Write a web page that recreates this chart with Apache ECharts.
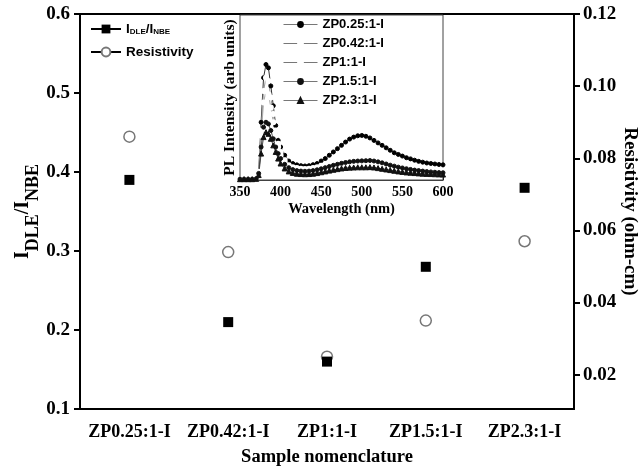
<!DOCTYPE html>
<html><head><meta charset="utf-8">
<script src="https://cdn.jsdelivr.net/npm/echarts@6/dist/echarts.min.js"></script>
<style>html,body{margin:0;padding:0;background:#fff}#c{width:639px;height:470px}</style>
</head><body><div id="c"></div>
<script>
// main chart data
const samples = ['ZP0.25:1-I','ZP0.42:1-I','ZP1:1-I','ZP1.5:1-I','ZP2.3:1-I'];
const ratioDLE = [0.39, 0.21, 0.16, 0.28, 0.38];
const resistivity = [0.086, 0.054, 0.025, 0.035, 0.057];
const leftTicks = [0.1, 0.2, 0.3, 0.4, 0.5, 0.6];
const rightTicks = [0.02, 0.04, 0.06, 0.08, 0.10, 0.12];

// inset PL spectra
const wavelengths = [350,355,360,365,370,373,376,379,382,385,388,391,394,397,400,405,410,415,420,425,430,435,440,445,450,455,460,465,470,475,480,485,490,495,500,505,510,515,520,525,530,535,540,545,550,555,560,565,570,575,580,585,590,595,600];
const plZP025 = [0.005,0.005,0.005,0.005,0.008,0.05,0.35,0.62,0.70,0.68,0.57,0.45,0.33,0.24,0.20,0.15,0.115,0.10,0.092,0.087,0.085,0.087,0.093,0.10,0.115,0.13,0.15,0.17,0.19,0.21,0.23,0.248,0.26,0.268,0.27,0.265,0.255,0.24,0.225,0.21,0.195,0.18,0.165,0.155,0.145,0.135,0.128,0.12,0.113,0.108,0.103,0.10,0.097,0.094,0.092];
const plZP042 = [0.005,0.005,0.005,0.005,0.008,0.05,0.30,0.54,0.62,0.60,0.50,0.40,0.30,0.22,0.17,0.12,0.09,0.078,0.072,0.068,0.067,0.068,0.072,0.078,0.086,0.095,0.104,0.113,0.122,0.13,0.137,0.142,0.145,0.147,0.148,0.147,0.145,0.14,0.133,0.125,0.117,0.11,0.102,0.095,0.09,0.085,0.08,0.075,0.072,0.068,0.066,0.064,0.062,0.06,0.058];
const plZP1 = [0.005,0.005,0.005,0.005,0.008,0.045,0.27,0.47,0.54,0.52,0.44,0.35,0.27,0.20,0.15,0.105,0.08,0.068,0.062,0.058,0.057,0.058,0.061,0.066,0.073,0.081,0.089,0.097,0.104,0.111,0.117,0.122,0.126,0.128,0.13,0.13,0.128,0.124,0.118,0.111,0.104,0.097,0.09,0.084,0.079,0.074,0.07,0.066,0.062,0.059,0.056,0.054,0.052,0.05,0.048];
const plZP15 = [0.005,0.005,0.005,0.005,0.008,0.04,0.20,0.32,0.35,0.34,0.30,0.25,0.20,0.16,0.13,0.095,0.075,0.063,0.057,0.054,0.053,0.054,0.057,0.062,0.068,0.075,0.082,0.089,0.095,0.101,0.106,0.11,0.113,0.115,0.116,0.117,0.118,0.115,0.11,0.104,0.097,0.09,0.084,0.078,0.073,0.068,0.064,0.06,0.057,0.054,0.051,0.049,0.047,0.045,0.044];
const plZP23 = [0.005,0.005,0.005,0.005,0.007,0.03,0.16,0.26,0.29,0.28,0.25,0.21,0.17,0.13,0.10,0.07,0.052,0.043,0.038,0.036,0.035,0.036,0.038,0.042,0.047,0.052,0.057,0.062,0.066,0.07,0.073,0.075,0.076,0.077,0.077,0.077,0.078,0.076,0.072,0.068,0.064,0.06,0.056,0.052,0.049,0.046,0.044,0.042,0.04,0.038,0.037,0.036,0.035,0.034,0.033];
const insetTicks = [350,400,450,500,550,600];

const pair = arr => wavelengths.map((w,i)=>[w, arr[i]]);
const serif = 'Liberation Serif';
const sans = 'Liberation Sans';

const chart = echarts.init(document.getElementById('c'), null, {renderer:'canvas'});
const insetSeries = [
  {name:'ZP0.25:1-I', data:plZP025, color:'#000', line:'#333', symbol:'circle', fill:'#000'},
  {name:'ZP0.42:1-I', data:plZP042, color:'#999', line:'#999', symbol:'emptyCircle', fill:'#fff'},
  {name:'ZP1:1-I', data:plZP1, color:'#aaa', line:'#aaa', symbol:'emptyCircle', fill:'#fff'},
  {name:'ZP1.5:1-I', data:plZP15, color:'#111', line:'#444', symbol:'circle', fill:'#111'},
  {name:'ZP2.3:1-I', data:plZP23, color:'#111', line:'#444', symbol:'triangle', fill:'#111'}
].map(s=>({
  name:s.name, type:'line', xAxisIndex:1, yAxisIndex:2, data:pair(s.data),
  symbol:s.symbol, symbolSize:s.symbol==='triangle'?5:4, showSymbol:true,
  lineStyle:{color:s.line, width:1}, itemStyle:{color:s.fill, borderColor:s.color, borderWidth:1},
  z:5, animation:false
}));

chart.setOption({
  animation:false,
  backgroundColor:'#fff',
  grid:[
    {left:80, right:65, top:14, bottom:61, show:true, borderColor:'#000', borderWidth:2, backgroundColor:'transparent', outerBoundsMode:'none', containLabel:false},
    {left:240, top:15, width:203, height:165, show:true, borderColor:'#444', borderWidth:1, backgroundColor:'#fff', z:3, outerBoundsMode:'none', containLabel:false}
  ],
  legend:[
    {data:['IDLE','Resistivity'], orient:'vertical', left:90, top:22, padding:0, itemWidth:30, itemHeight:11, itemGap:9,
     lineStyle:{width:2, color:'#000', opacity:1},
     formatter: n => n==='IDLE' ? '{m|I}{s|DLE}{m|/I}{s|NBE}' : '{m|Resistivity}',
     textStyle:{fontFamily:sans, fontWeight:'bold', fontSize:13.5, color:'#000',
       rich:{m:{fontFamily:sans, fontWeight:'bold', fontSize:13.5, color:'#000'},
             s:{fontFamily:sans, fontWeight:'bold', fontSize:8, color:'#000', verticalAlign:'bottom', padding:[6,0,0,0]}}}},
    {data:insetSeries.map(s=>s.name), orient:'vertical', left:283, top:18, padding:0, itemWidth:34, itemHeight:6, itemGap:6, z:6,
     lineStyle:{color:'#777', width:1},
     textStyle:{fontFamily:sans, fontWeight:'bold', fontSize:13, color:'#000'}}
  ],
  xAxis:[
    {type:'category', gridIndex:0, data:samples, boundaryGap:true,
     axisLine:{lineStyle:{color:'#000', width:2}},
     axisTick:{alignWithLabel:true, inside:false, length:6, lineStyle:{color:'#000', width:2}},
     axisLabel:{fontFamily:serif, fontWeight:'bold', fontSize:18, color:'#000', margin:14, interval:0, hideOverlap:false},
     name:'Sample nomenclature', nameLocation:'middle', nameGap:39,
     nameTextStyle:{fontFamily:serif, fontWeight:'bold', fontSize:18.5, color:'#000'}},
    {type:'value', gridIndex:1, min:350, max:600, interval:50,
     axisLine:{lineStyle:{color:'#000', width:1.5}},
     axisTick:{inside:true, length:3, lineStyle:{color:'#000'}},
     minorTick:{show:true, splitNumber:2, length:2, lineStyle:{color:'#000'}},
     splitLine:{show:false},
     axisLabel:{fontFamily:serif, fontWeight:'bold', fontSize:14, color:'#000', margin:5,
       customValues:insetTicks},
     name:'Wavelength (nm)', nameLocation:'middle', nameGap:22,
     nameTextStyle:{fontFamily:serif, fontWeight:'bold', fontSize:14.5, color:'#000'}}
  ],
  yAxis:[
    {type:'value', gridIndex:0, position:'left', min:0.1, max:0.6, interval:0.1,
     axisLine:{show:true, lineStyle:{color:'#000', width:2}},
     axisTick:{show:true, length:6, lineStyle:{color:'#000', width:2}},
     splitLine:{show:false},
     axisLabel:{fontFamily:serif, fontWeight:'bold', fontSize:19, color:'#000', margin:10,
       customValues:leftTicks, formatter:v=>v.toFixed(1)},
     name:'{a|I}{b|DLE}{a|/I}{b|NBE}', nameLocation:'middle', nameGap:38, nameRotate:90, nameMoveOverlap:false,
     nameTextStyle:{rich:{a:{fontFamily:serif, fontWeight:'bold', fontSize:20, color:'#000', verticalAlign:'top'},
                          b:{fontFamily:serif, fontWeight:'bold', fontSize:18, color:'#000', verticalAlign:'bottom', padding:[11,0,0,0]}}}},
    {type:'value', gridIndex:0, position:'right', min:0.0105, max:0.12,
     axisLine:{show:true, lineStyle:{color:'#000', width:2}},
     axisTick:{show:true, length:6, lineStyle:{color:'#000', width:2}, customValues:rightTicks},
     splitLine:{show:false},
     axisLabel:{fontFamily:serif, fontWeight:'bold', fontSize:19, color:'#000', margin:9,
       customValues:rightTicks, formatter:v=>v.toFixed(2)},
     name:'Resistivity (ohm-cm)', nameLocation:'middle', nameGap:46, nameRotate:-90, nameMoveOverlap:false,
     nameTextStyle:{fontFamily:serif, fontWeight:'bold', fontSize:19, color:'#000'}},
    {type:'value', gridIndex:1, min:0, max:1,
     axisLine:{show:false}, axisTick:{show:false}, axisLabel:{show:false}, splitLine:{show:false},
     name:'PL Intensity (arb units)', nameLocation:'middle', nameGap:2,
     nameTextStyle:{fontFamily:serif, fontWeight:'bold', fontSize:15.5, color:'#000'}}
  ],
  series:[
    {name:'IDLE', type:'line', xAxisIndex:0, yAxisIndex:0, data:ratioDLE,
     symbol:'rect', symbolSize:10, lineStyle:{width:0, opacity:0},
     itemStyle:{color:'#000'}, z:4},
    {name:'Resistivity', type:'line', xAxisIndex:0, yAxisIndex:1, data:resistivity,
     symbol:'circle', symbolSize:11, lineStyle:{width:0, opacity:0},
     itemStyle:{color:'#fff', borderColor:'#777', borderWidth:1.5}, z:3}
  ].concat(insetSeries)
});
</script></body></html>
